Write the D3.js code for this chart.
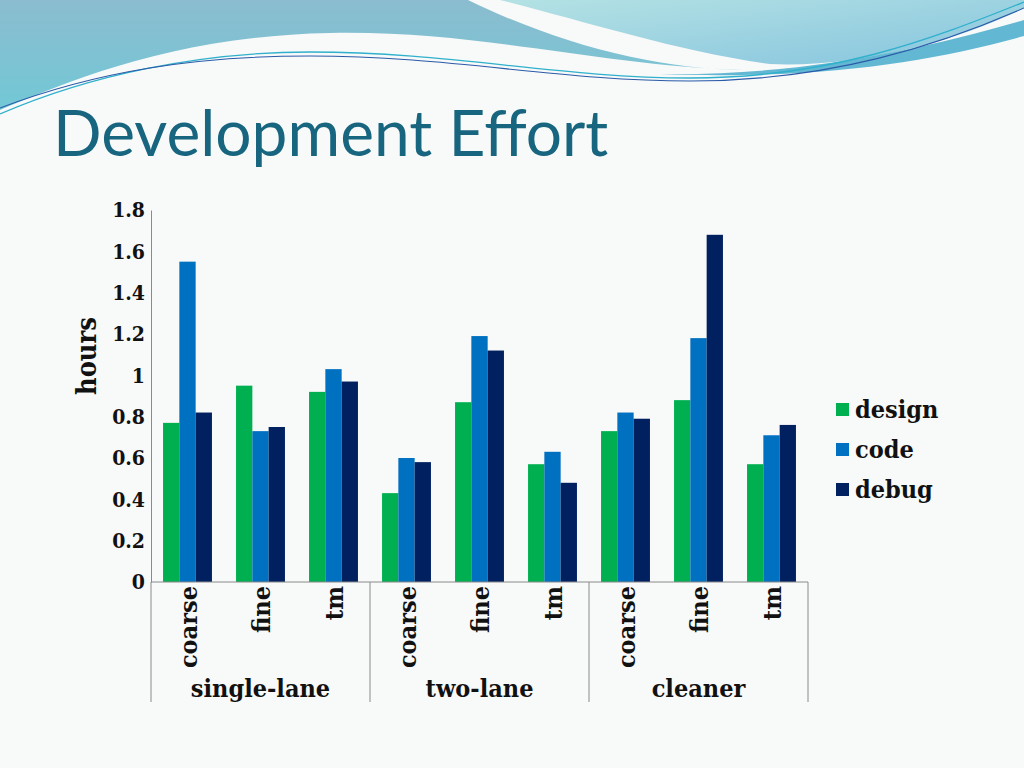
<!DOCTYPE html>
<html>
<head>
<meta charset="utf-8">
<script src="https://cdn.jsdelivr.net/npm/d3@7"></script>
<style>
  html, body { margin: 0; padding: 0; background: #f8f9f9; }
  svg { display: block; }
</style>
</head>
<body>
<svg width="1024" height="768"></svg>
<script>
// chart values
const groups = ["single-lane", "two-lane", "cleaner"];
const variants = ["coarse", "fine", "tm"];
const series = ["design", "code", "debug"];
const design = [0.77, 0.95, 0.92, 0.43, 0.87, 0.57, 0.73, 0.88, 0.57];
const code   = [1.55, 0.73, 1.03, 0.60, 1.19, 0.63, 0.82, 1.18, 0.71];
const debug  = [0.82, 0.75, 0.97, 0.58, 1.12, 0.48, 0.79, 1.68, 0.76];
const yTicks = [0, 0.2, 0.4, 0.6, 0.8, 1, 1.2, 1.4, 1.6, 1.8];
const colors = ["#00b050", "#0070c0", "#002060"];

const values = [design, code, debug];
const svg = d3.select("svg");
const serif = "'DejaVu Serif Condensed', 'DejaVu Serif', serif";

// background header waves
const defs = svg.append("defs");
const g1 = defs.append("linearGradient").attr("id", "waveA").attr("x1", 0).attr("y1", 0).attr("x2", 0).attr("y2", 1);
g1.append("stop").attr("offset", 0).attr("stop-color", "#8bbccf");
g1.append("stop").attr("offset", 1).attr("stop-color", "#72c8d6");
const g2 = defs.append("linearGradient").attr("id", "waveB").attr("x1", 0).attr("y1", 0).attr("x2", 1).attr("y2", 1);
g2.append("stop").attr("offset", 0).attr("stop-color", "#b4e2e4");
g2.append("stop").attr("offset", 1).attr("stop-color", "#86c4de");

svg.append("path")
   .attr("d", "M0,0 L468,0 C560,45 660,70 745,70 C600,66 480,30 330,33 C170,36 60,85 0,110 Z")
   .attr("fill", "url(#waveA)");
svg.append("path")
   .attr("d", "M500,0 L1024,0 L1024,8 C960,40 860,68 770,64 C680,52 580,20 500,0 Z")
   .attr("fill", "url(#waveB)");
svg.append("path")
   .attr("d", "M660,74 C800,76 920,50 1024,20 L1024,36 C930,62 820,80 660,74 Z")
   .attr("fill", "#62b8d2");
svg.append("path")
   .attr("d", "M0,114 C90,75 200,52 310,52 C450,52 560,78 690,78 C830,78 930,40 1024,2")
   .attr("fill", "none").attr("stroke", "#2fb0cc").attr("stroke-width", 1.3);
svg.append("path")
   .attr("d", "M0,108 C100,70 200,56 310,56 C450,56 560,81 690,81 C830,81 940,45 1024,8")
   .attr("fill", "none").attr("stroke", "#2a5aa8").attr("stroke-width", 1.1);

// title
svg.append("text")
   .attr("x", 53).attr("y", 156)
   .attr("font-family", "Lato, 'Open Sans', sans-serif")
   .attr("font-size", 64)
   .attr("fill", "#17657f")
   .text("Development Effort");

// scales
const plotLeft = 151, plotRight = 808, plotTop = 210, plotBottom = 582;
const cats = d3.range(groups.length * variants.length);
const x = d3.scaleBand().domain(cats).range([plotLeft, plotRight]).paddingInner(0.33).paddingOuter(0.165);
const xs = d3.scaleBand().domain(series).range([0, x.bandwidth()]);
const y = d3.scaleLinear().domain([0, 1.8]).range([plotBottom, plotTop]);

// bars
series.forEach((s, si) => {
    svg.append("g").selectAll("rect")
       .data(values[si])
       .enter()
       .append("rect")
       .attr("x", (d, i) => x(i) + xs(s))
       .attr("y", d => y(d))
       .attr("width", xs.bandwidth())
       .attr("height", d => plotBottom - y(d))
       .attr("fill", colors[si]);
});

// y axis
const yAxis = svg.append("g")
   .attr("transform", `translate(${plotLeft},0)`)
   .call(d3.axisLeft(y).tickValues(yTicks).tickSize(0).tickPadding(6).tickFormat(d3.format("~g")));
yAxis.select(".domain").attr("stroke", "#8a8a8a");
yAxis.selectAll("text")
   .attr("font-family", serif).attr("font-weight", "bold")
   .attr("font-size", 21).attr("fill", "#111");

svg.append("text")
   .attr("transform", "translate(96,356) rotate(-90)")
   .attr("text-anchor", "middle")
   .attr("font-family", serif).attr("font-weight", "bold")
   .attr("font-size", 27).attr("fill", "#111")
   .text("hours");

// x axis line and group separators
svg.append("line")
   .attr("x1", plotLeft).attr("x2", plotRight).attr("y1", plotBottom).attr("y2", plotBottom)
   .attr("stroke", "#8a8a8a");
const groupStep = x.step() * variants.length;
const sepX = d3.range(groups.length + 1).map(i => plotLeft + i * groupStep);
svg.selectAll(".sep")
   .data(sepX)
   .enter()
   .append("line")
   .attr("x1", d => d).attr("x2", d => d)
   .attr("y1", plotBottom).attr("y2", 702)
   .attr("stroke", "#8a8a8a");

// category labels
svg.selectAll(".cat")
   .data(cats)
   .enter()
   .append("text")
   .attr("transform", i => `translate(${x(i) + x.bandwidth() / 2 + 9},586) rotate(-90)`)
   .attr("text-anchor", "end")
   .attr("font-family", serif).attr("font-weight", "bold")
   .attr("font-size", 25).attr("fill", "#111")
   .text(i => variants[i % variants.length]);

// group labels
svg.selectAll(".grp")
   .data(groups)
   .enter()
   .append("text")
   .attr("x", (d, i) => plotLeft + (i + 0.5) * groupStep)
   .attr("y", 697)
   .attr("text-anchor", "middle")
   .attr("font-family", serif).attr("font-weight", "bold")
   .attr("font-size", 25).attr("fill", "#111")
   .text(d => d);

// legend
const legend = svg.append("g").attr("transform", "translate(836,403)");
series.forEach((s, i) => {
    legend.append("rect")
       .attr("x", 0).attr("y", i * 40)
       .attr("width", 13).attr("height", 13)
       .attr("fill", colors[i]);
    legend.append("text")
       .attr("x", 19).attr("y", i * 40 + 15)
       .attr("font-family", serif).attr("font-weight", "bold")
       .attr("font-size", 25).attr("fill", "#111")
       .text(s);
});
</script>
</body>
</html>
